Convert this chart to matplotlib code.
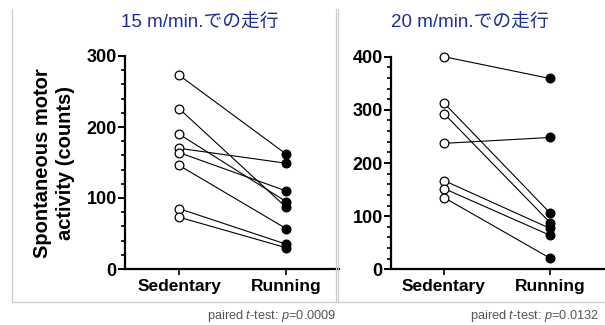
import matplotlib
matplotlib.use("Agg")
import matplotlib.pyplot as plt
from matplotlib.lines import Line2D
from matplotlib.ticker import MultipleLocator

plt.rcParams["font.family"] = ["Liberation Sans", "DejaVu Sans"]
plt.rcParams["mathtext.fontset"] = "custom"
plt.rcParams["mathtext.rm"] = "Liberation Sans"
plt.rcParams["mathtext.it"] = "Liberation Sans:italic"

groups = ["Sedentary", "Running"]

# 15 m/min
sed_15 = [273, 226, 190, 170, 164, 146, 85, 73]
run_15 = [162, 87, 95, 149, 110, 57, 35, 30]

# 20 m/min
sed_20 = [400, 313, 293, 237, 167, 152, 135]
run_20 = [359, 106, 88, 248, 77, 64, 21]

titles = ["15 m/min.での走行", "20 m/min.での走行"]
pvals = ["0.0009", "0.0132"]

W, H = 605, 325
fig = plt.figure(figsize=(W / 100, H / 100), dpi=100)


def px(x0, y_top, x1, y_bot):
    return [x0 / W, 1 - y_bot / H, (x1 - x0) / W, (y_bot - y_top) / H]


def paired(ax, sed, run, ymax, xlim):
    for a, b in zip(sed, run):
        ax.plot([0, 1], [a, b], color="black", lw=0.8, zorder=2, clip_on=False)
    ax.plot([0] * len(sed), sed, "o", ms=6.3, mfc="white", mec="black", mew=0.9,
            zorder=3, clip_on=False)
    ax.plot([1] * len(run), run, "o", ms=6.3, mfc="black", mec="black", mew=0.9,
            zorder=3, clip_on=False)
    ax.set_xlim(*xlim)
    ax.set_ylim(0, ymax)
    ax.set_xticks([0, 1])
    ax.set_xticklabels(groups, fontsize=12.5, fontweight="bold")
    ax.yaxis.set_major_locator(MultipleLocator(100))
    ax.yaxis.set_minor_locator(MultipleLocator(20))
    for lab in ax.get_yticklabels():
        lab.set_fontweight("bold")
        lab.set_fontsize(13)
    for s in ["top", "right"]:
        ax.spines[s].set_visible(False)
    for s in ["left", "bottom"]:
        ax.spines[s].set_linewidth(1.6)
    ax.tick_params(axis="y", which="major", length=5, width=1.4, pad=1)
    ax.tick_params(axis="y", which="minor", length=3, width=1.2)
    ax.tick_params(axis="x", length=4, width=1.2, pad=3)
    ax.patch.set_alpha(0)


ax1 = fig.add_axes(px(125, 56, 339, 269))
paired(ax1, sed_15, run_15, 300, (-0.505, 1.495))
ax2 = fig.add_axes(px(391, 56.7, 605, 269.3))
paired(ax2, sed_20, run_20, 400, (-0.5, 1.519))

# panel frames
frame = dict(color="#cccccc", lw=0.9, transform=fig.transFigure)
for (x0, y0, x1, y1) in [(12, 9, 12, 302), (12, 302, 336, 302), (336, 9, 336, 302),
                         (338, 9, 338, 302), (338, 302, 605, 302)]:
    fig.add_artist(Line2D([x0 / W, x1 / W], [1 - y0 / H, 1 - y1 / H], **frame))

# titles
title_kw = dict(color="#1f2d9b", fontsize=13.5, ha="center", va="center",
                family=["Liberation Sans", "Noto Sans CJK JP"])
fig.text(200 / W, 1 - 23 / H, titles[0], **title_kw)
fig.text(470 / W, 1 - 23 / H, titles[1], **title_kw)

fig.text(54 / W, 1 - 163 / H, "Spontaneous motor\nactivity (counts)", rotation=90,
         ha="center", va="center", fontsize=14.5, fontweight="bold", linespacing=1.25)

note_kw = dict(color="#555555", fontsize=9.2, ha="right", va="center")
fig.text(336 / W, 1 - 316 / H, r"paired $\it{t}$-test: $\it{p}$=" + pvals[0], **note_kw)
fig.text(599 / W, 1 - 316 / H, r"paired $\it{t}$-test: $\it{p}$=" + pvals[1], **note_kw)

fig.savefig("out.png", dpi=100)
